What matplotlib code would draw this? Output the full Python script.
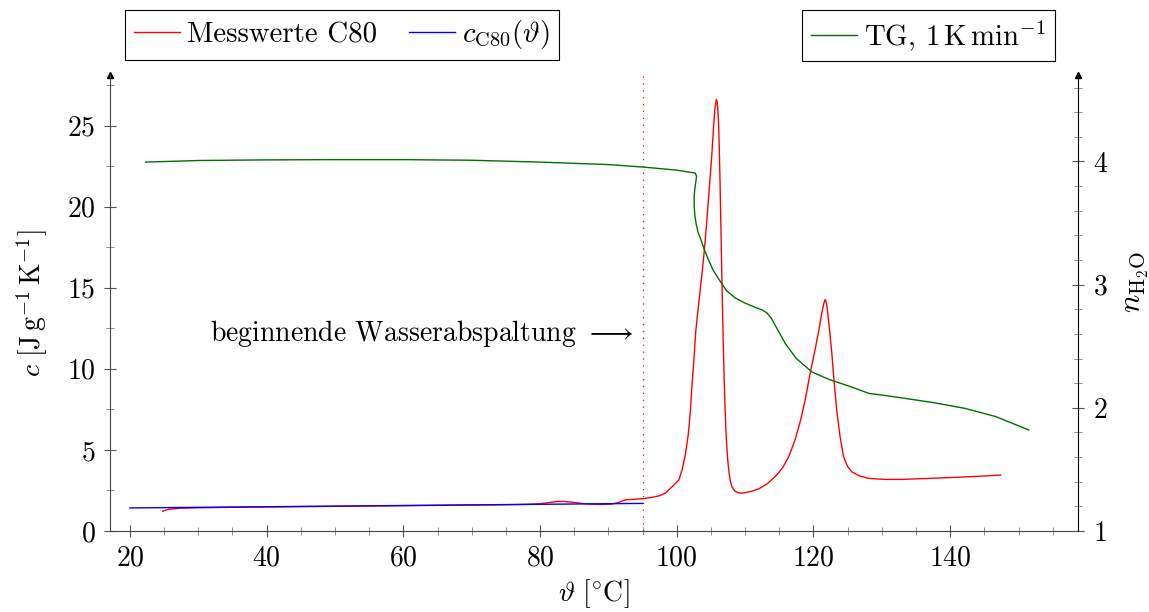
import matplotlib
matplotlib.use('Agg')
import matplotlib.pyplot as plt
from matplotlib.ticker import MultipleLocator

plt.rcParams['font.family'] = 'cmr10'
plt.rcParams['mathtext.fontset'] = 'cm'
plt.rcParams['axes.formatter.use_mathtext'] = True
plt.rcParams['font.size'] = 20

# C80 heat capacity measurement
temp_c80 = [24.8, 25.6, 27.2, 30, 35, 40, 45, 50, 55, 60, 65, 70, 75, 78, 80,
            81.5, 82.5, 83.5, 85, 86.5, 88, 89.5, 90.5, 91.5, 92.5, 94, 95.2,
            96.5, 97.5, 98.3, 98.8, 99.5, 100.3, 100.8, 101.3, 101.7, 102,
            102.2, 102.5, 102.8, 103.2, 103.6, 103.9, 104.3, 104.7, 105.1,
            105.4, 105.55, 105.7, 105.8, 105.9, 106.0, 106.1, 106.2, 106.35,
            106.5, 106.65, 106.8, 106.95, 107.1, 107.25, 107.45, 107.65,
            107.85, 108.1, 108.5, 109.0, 109.5, 110.0, 111, 112, 113.2, 114.4,
            115.5, 116.4, 117.3, 118.1, 118.8, 119.5, 120.2, 120.8, 121.2,
            121.5, 121.7, 121.9, 122.1, 122.4, 122.7, 123.0, 123.4, 123.9,
            124.4, 125.0, 125.6, 126.7, 128.1, 130.5, 133, 135.4, 138, 140.3,
            143, 145, 147.4]
c_c80 = [1.22, 1.33, 1.40, 1.43, 1.46, 1.48, 1.50, 1.52, 1.54, 1.56, 1.58,
         1.60, 1.62, 1.64, 1.68, 1.76, 1.82, 1.82, 1.76, 1.68, 1.64, 1.64,
         1.66, 1.76, 1.92, 1.96, 2.0, 2.08, 2.18, 2.32, 2.52, 2.8, 3.14, 3.8,
         4.8, 6.0, 7.45,
         8.8, 10.5, 12.4, 14.0, 15.5, 16.7, 18.6, 20.8, 23.0,
         25.0, 25.9, 26.4, 26.6, 26.5, 26.1, 25.3, 24.0, 21.2,
         17.8, 14.6, 11.6, 9.2, 7.2, 5.7, 4.4, 3.6,
         3.05, 2.7, 2.45, 2.36, 2.33, 2.36, 2.45, 2.6, 2.9, 3.35,
         3.9, 4.6, 5.6, 6.8, 8.1, 9.7, 11.1, 12.4, 13.4,
         14.0, 14.27, 14.05, 13.4, 12.2, 10.9, 9.3, 7.45, 5.8,
         4.58, 3.98, 3.65, 3.4, 3.24, 3.18, 3.18, 3.22, 3.26, 3.3,
         3.35, 3.39, 3.45]

# fitted c_C80(theta)
temp_fit = [20, 40, 60, 80, 95]
c_fit = [1.42, 1.495, 1.57, 1.645, 1.70]

# thermogravimetry, 1 K/min
temp_tg = [22.3, 30, 40, 50, 60, 70, 80, 90, 95, 100, 102.7, 102.9, 102.8,
           102.65, 102.55, 102.55, 102.65, 102.85, 103.1, 103.5, 104.0, 104.5,
           105.3, 106.2, 107.3, 108.6, 110, 111.5, 112.5, 113.2, 113.8, 114.5,
           115.9, 117.5, 119.8, 122.3, 125.2, 127, 128.1, 130.5, 133, 137.8,
           142.2, 146.6, 151.5]
n_h2o = [3.995, 4.008, 4.013, 4.015, 4.015, 4.010, 3.995, 3.975, 3.955, 3.93,
         3.906, 3.88, 3.84, 3.78, 3.72, 3.64, 3.56, 3.49, 3.43, 3.37, 3.29,
         3.22, 3.12, 3.04, 2.95, 2.89, 2.85, 2.815, 2.795, 2.77, 2.73, 2.66,
         2.52, 2.40, 2.29, 2.23, 2.176, 2.14, 2.117, 2.10, 2.08, 2.04, 1.995,
         1.93, 1.82]

onset_temp = 95

fig = plt.figure(figsize=(11.49, 6.12), dpi=100)
ax = fig.add_axes([0.0957, 0.1324, 0.8425, 0.7446])
ax2 = ax.twinx()

l1, = ax.plot(temp_c80, c_c80, color='red', lw=1.0)
l2, = ax.plot(temp_fit, c_fit, color='blue', lw=1.0)
l3, = ax2.plot(temp_tg, n_h2o, color='#007000', lw=1.0)
ax.axvline(onset_temp, color='red', lw=0.9, ls=(0, (1, 4.5)))

ax.set_xlim(17.08, 158.7)
ax.set_ylim(0, 28.1)
ax2.set_ylim(1, 4.70)

ax.xaxis.set_major_locator(MultipleLocator(20))
ax.xaxis.set_minor_locator(MultipleLocator(5))
ax.yaxis.set_major_locator(MultipleLocator(5))
ax.yaxis.set_minor_locator(MultipleLocator(2.5))
ax2.yaxis.set_major_locator(MultipleLocator(1))
ax2.yaxis.set_minor_locator(MultipleLocator(0.2))

for a in (ax, ax2):
    a.tick_params(which='major', direction='inout', length=9, width=0.8,
                  color='#555555', pad=6)
    a.tick_params(which='minor', direction='inout', length=6, width=0.6,
                  color='#777777')
    a.spines['top'].set_visible(False)
ax.spines['right'].set_visible(False)
ax2.spines['left'].set_visible(False)
ax2.spines['bottom'].set_visible(False)
ax.spines['left'].set_color('#444444')
ax.spines['bottom'].set_color('#444444')
ax2.spines['right'].set_color('black')

# arrow heads on the vertical axes
ax.plot(0, 1, marker='^', ms=5, color='black', transform=ax.transAxes,
        clip_on=False)
ax.plot(1, 1, marker='^', ms=5, color='black', transform=ax.transAxes,
        clip_on=False)

ax.set_xlabel(r'$\vartheta\ [^{\circ}\mathrm{C}]$', labelpad=4)
ax.set_ylabel(r'$c\ [\mathrm{J\,g^{-1}\,K^{-1}}]$', labelpad=12)
ax2.set_ylabel(r'$n_{\mathrm{H_2O}}$', fontsize=22)
ax2.yaxis.set_label_coords(1.047, 0.545)

ax.text(93.7, 12.2, r'beginnende Wasserabspaltung $\longrightarrow$',
        ha='right', va='center')

leg_kw = dict(frameon=True, fancybox=False, edgecolor='black',
              handlelength=1.6, handletextpad=0.25, borderpad=0.3,
              columnspacing=1.1, framealpha=1, borderaxespad=0,
              fontsize=20.8)
leg1 = fig.legend([l1, l2], ['Messwerte C80', r'$c_{\mathrm{C80}}(\vartheta)$'],
                  loc='upper left', bbox_to_anchor=(0.1088, 0.984), ncol=2,
                  **leg_kw)
leg2 = fig.legend([l3], [r'TG, $1\,\mathrm{K}\,\mathrm{min}^{-1}$'],
                  loc='upper right', bbox_to_anchor=(0.918, 0.984), **leg_kw)
for lg in (leg1, leg2):
    lg.get_frame().set_linewidth(0.8)

fig.savefig('out.png', dpi=100)
